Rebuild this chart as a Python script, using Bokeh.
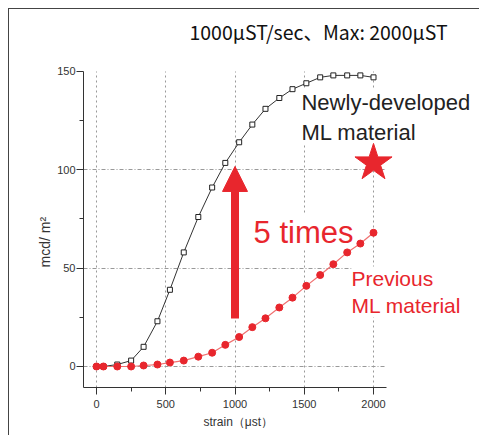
from bokeh.plotting import figure
from bokeh.models import FixedTicker, Label, Arrow, NormalHead, Range1d, Title
from bokeh.embed import file_html
from bokeh.resources import INLINE

# ---- data ----
strain = [0, 50, 150, 250, 340, 440, 530, 630, 735, 835, 930, 1030,
          1125, 1220, 1320, 1415, 1515, 1615, 1710, 1810, 1905, 2000]
new_material = [0, 0, 1, 3, 10, 23, 39, 58, 76, 91, 103.5, 114,
                123, 131, 136.5, 141, 144, 147, 148, 148, 148, 147]
previous_material = [0, 0, 0, 0, 0.5, 1, 2, 3, 5, 7, 11, 15,
                     20, 24.5, 30, 35, 41, 46.5, 52, 58, 62.5, 68]

x_ticks = [0, 500, 1000, 1500, 2000]
x_minor = [250, 750, 1250, 1750]
y_ticks = [0, 50, 100, 150]
y_minor = [25, 75, 125]
y_grid = [0, 50, 100]

title_text = "1000μST/sec、Max: 2000μST"
x_title = "strain（μst）"
y_title = "mcd/ m²"
new_label = "Newly-developed\nML material"
old_label = "Previous\nML material"
ratio_label = "5 times"
star_x, star_y = [2000], [103.5]
arrow_x, arrow_y0, arrow_y1 = 1000, 24.4, 101.7

RED = "#e8262d"
DARK = "#333333"

p = figure(width=471, height=427, output_backend="svg", toolbar_location=None,
           title=None,
           x_range=Range1d(-93.9, 2772.5), y_range=Range1d(-10.68, 181.5),
           min_border_left=74, min_border_right=0, min_border_top=0,
           min_border_bottom=49)
p.outline_line_color = None
p.background_fill_color = "white"
p.border_fill_color = "white"
p.styles = {"margin-left": "8px", "margin-top": "8px",
            "border-left": "1px solid #444", "border-top": "1px solid #444"}

xa = p.xaxis[0]
ya = p.yaxis[0]
xa.ticker = FixedTicker(ticks=x_ticks, minor_ticks=x_minor)
ya.ticker = FixedTicker(ticks=y_ticks, minor_ticks=y_minor)
xa.bounds = (-93.9, 2092)
ya.bounds = (-10.68, 150)
for ax in (xa, ya):
    ax.axis_line_color = DARK
    ax.major_tick_line_color = DARK
    ax.minor_tick_line_color = DARK
    ax.major_tick_in = 0
    ax.major_tick_out = 7
    ax.minor_tick_in = 0
    ax.minor_tick_out = 4
    ax.major_label_text_font = "Liberation Sans"
    ax.major_label_text_font_size = "11px"
    ax.major_label_text_color = DARK
xa.major_label_standoff = 5
ya.major_label_standoff = 1

p.xgrid.ticker = FixedTicker(ticks=x_ticks)
p.xgrid.grid_line_color = "#999999"
p.xgrid.grid_line_dash = "2 3"
p.xgrid.cross_bounds = (-10.68, 150)
p.ygrid.ticker = FixedTicker(ticks=y_grid)
p.ygrid.grid_line_color = "#999999"
p.ygrid.grid_line_dash = "4 2 1 2"
p.ygrid.cross_bounds = (-93.9, 2090)

# axis titles, positioned under / beside the drawn axes (not the wider frame)
p.add_layout(Title(text=x_title, align="left", offset=120, standoff=9,
                   vertical_align="top",
                   text_font="Liberation Sans", text_font_size="12px",
                   text_font_style="normal", text_color=DARK), "below")
p.add_layout(Title(text=y_title, align="left", offset=120, standoff=4,
                   text_font="Liberation Sans", text_font_size="14px",
                   text_font_style="normal", text_color=DARK), "left")

# text boxes (drawn over the grid, under the data)
p.add_layout(Label(x=1603, y=170.3, text=title_text, text_align="center",
                   text_baseline="alphabetic", text_font="Noto Sans CJK JP",
                   text_font_size="19.5px", text_color="#111111"))
p.add_layout(Label(x=1480, y=140.8, text=new_label, text_align="left",
                   text_baseline="top", text_font="Liberation Sans",
                   text_font_size="22px", text_color="#222222",
                   background_fill_color="white", level="underlay"))
p.add_layout(Label(x=1134, y=68.1, text=ratio_label, text_align="left",
                   text_baseline="alphabetic", text_font="Liberation Sans",
                   text_font_size="31px", text_color=RED,
                   background_fill_color="white", level="underlay"))
p.add_layout(Label(x=1841, y=50.8, text=old_label, text_align="left",
                   text_baseline="top", text_font="Liberation Sans",
                   text_font_size="21px", text_color=RED,
                   background_fill_color="white", level="underlay"))

# data
p.line(strain, new_material, line_color=DARK, line_width=1)
p.scatter(strain, new_material, marker="square", size=5,
          fill_color="white", line_color="#222222", line_width=1)
p.line(strain, previous_material, line_color="#f07070", line_width=1.2)
p.scatter(strain, previous_material, marker="circle", size=7,
          fill_color=RED, line_color=RED)

p.scatter(star_x, star_y, marker="star", size=39, fill_color=RED, line_color=RED)
p.add_layout(Arrow(end=NormalHead(size=25, fill_color=RED, line_color=RED, line_width=1),
                   x_start=arrow_x, y_start=arrow_y0, x_end=arrow_x, y_end=arrow_y1,
                   line_color=RED, line_width=8))

open("out.html", "w").write(file_html(p, INLINE))
